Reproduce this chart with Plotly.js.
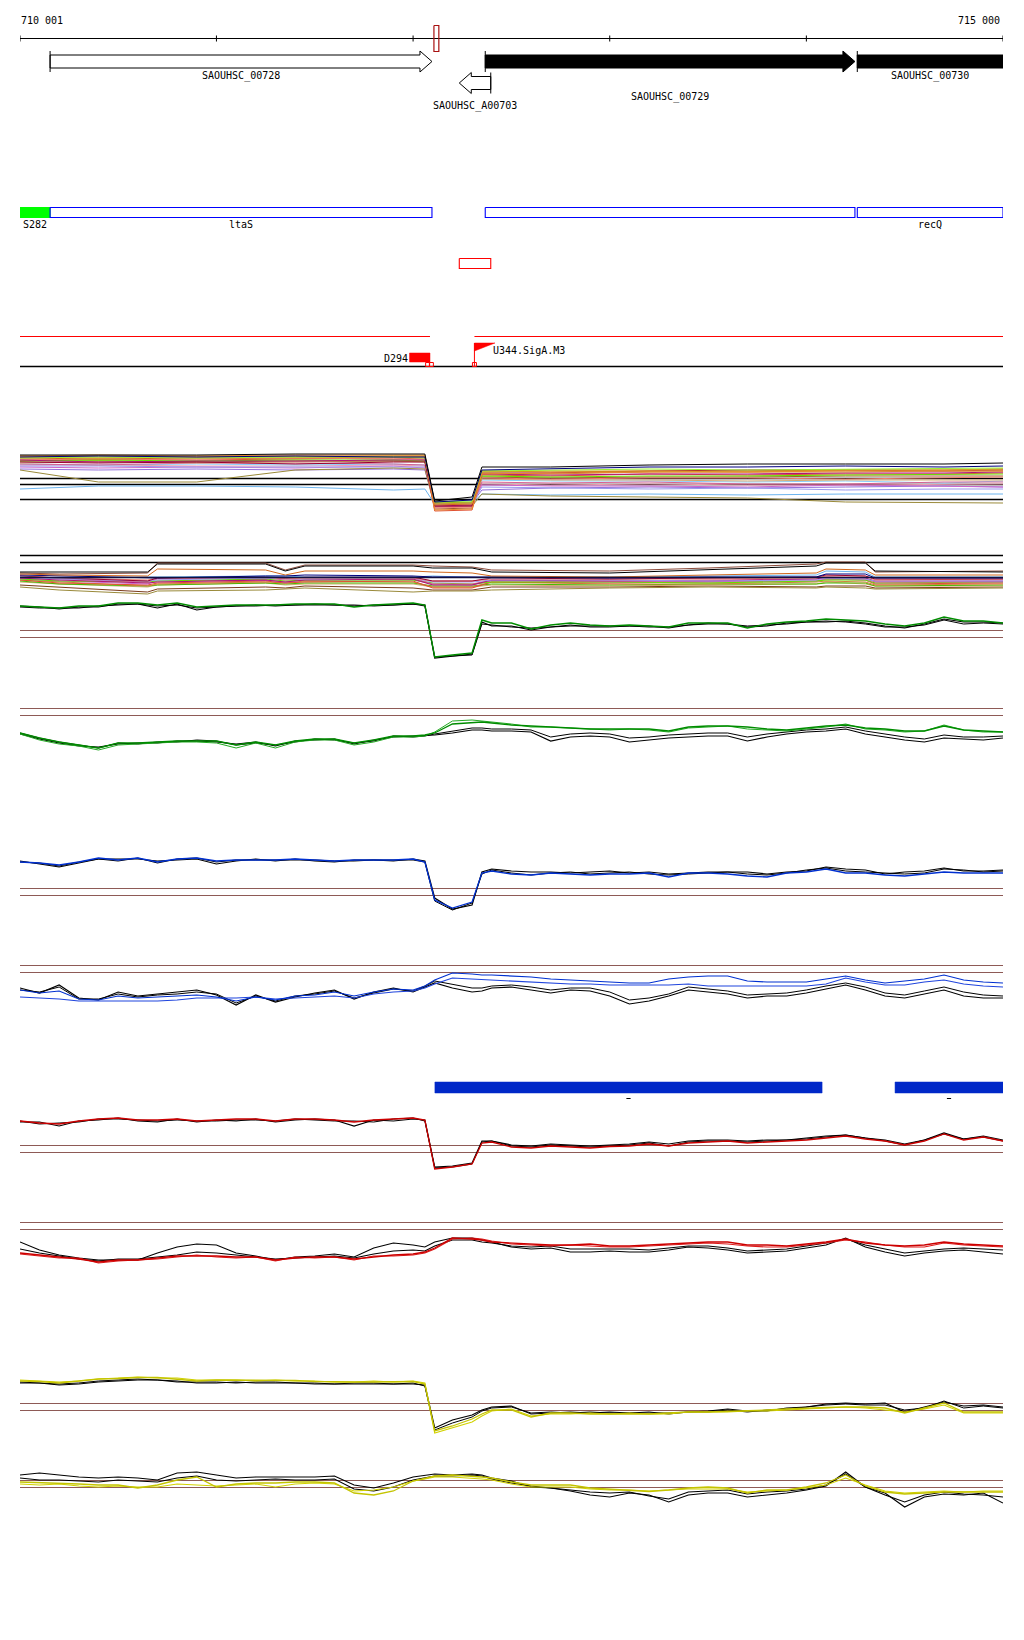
<!DOCTYPE html>
<html><head><meta charset="utf-8">
<script src="https://cdn.plot.ly/plotly-3.0.1.min.js"></script>
<style>html,body{margin:0;padding:0;background:#fff}</style>
</head><body><div id="chart" style="width:1024px;height:1640px"></div>
<script>
// ================= DATA =================
const rulerTicks = [710001, 711000, 712000, 713000, 714000, 715000];
const rulerLabels = ['710 001', '715 000'];
const markerStart = [712106], markerEnd = [712131];

const geneNames = ['SAOUHSC_00728', 'SAOUHSC_A00703', 'SAOUHSC_00729', 'SAOUHSC_00730'];
const geneStart = [710154, 712235, 712367, 714259];
const geneEnd = [712096, 712395, 714247, 715600];
const geneStrand = ['+', '-', '+', '+'];

const boxNames = ['S282', 'ltaS', '', 'recQ'];
const boxStart = [710001, 710154, 712367, 714259];
const boxEnd = [710154, 712096, 714247, 715000];

const ncStart = [712235], ncEnd = [712395];
const tuStart = [710001, 712312], tuEnd = [712086, 715000];
const downName = ['D294'], downStart = [711982], downEnd = [712086];
const upName = ['U344.SigA.M3'], upPos = [712312];
const probePos = [712074, 712093, 712312];
const segStart = [712111, 714451], segEnd = [714080, 715000];

// positions of the expression profiles
const posGrid = [710001,710100,710200,710300,710400,710500,710600,710700,710800,710900,711000,711100,711200,711300,711400,711500,711600,711700,711800,711900,712000,
  712060,712110,712200,712300,712350,712400,
  712500,712600,712700,712800,712900,713000,713100,713200,713300,713400,713500,713600,713700,713800,713900,714000,714100,714200,714300,714400,714500,714600,714700,714800,714900,715000];
const coarseA = [710001,710400,710900,711400,711900,712060,712110,712300,712350,712700,713200,713700,714200,714700,715000];
const coarseB = [710001,710200,710650,710700,711250,711350,711450,712000,712100,712300,712400,713000,713500,714050,714100,714300,714350,715000];

// panel A condition profiles
const ctrlA01 = [12.5,12.5,12.5,12.6,12.6,12.6,7.9,8.3,11.3,11.3,11.5,11.6,11.6,11.6,11.7];
const ctrlA02 = [12.3,12.4,12.3,12.4,12.3,12.3,7.8,8.0,11.0,11.1,11.3,11.3,11.4,11.3,11.4];
const ctrlA03 = [12.2,12.1,12.2,12.2,12.3,12.3,7.5,7.6,10.9,10.8,10.9,10.9,11.0,11.0,11.1];
const ctrlA04 = [12.4,12.3,12.3,12.4,12.4,12.4,7.6,7.7,10.7,10.6,10.8,10.8,10.8,10.9,10.9];
const ctrlA05 = [12.0,11.8,11.9,11.9,12.0,12.0,7.4,7.5,10.6,10.5,10.6,10.6,10.7,10.7,10.8];
const ctrlA06 = [11.9,12.0,11.9,12.0,12.0,11.9,7.7,7.8,10.4,10.3,10.4,10.4,10.5,10.6,10.6];
const ctrlA07 = [11.0,9.8,9.8,11.0,11.2,11.1,7.3,7.4,8.6,8.4,8.3,8.2,7.8,7.7,7.7];
const ctrlA08 = [9.1,9.4,9.4,9.3,9.0,9.1,7.6,7.7,8.6,8.5,8.6,8.5,8.6,8.6,8.6];
const ctrlA09 = [11.6,11.5,11.6,11.5,11.6,11.5,7.6,7.8,10.0,9.9,9.9,9.8,9.9,9.7,9.9];
const ctrlA10 = [11.4,11.4,11.3,11.3,11.3,11.3,7.5,7.6,9.3,9.2,9.1,9.2,9.0,9.1,9.1];
const ctrlA11 = [12.1,12.0,12.1,12.2,12.1,12.1,7.2,7.3,10.2,10.1,10.2,10.2,10.1,10.2,10.3];
const ctrlA12 = [11.6,11.5,11.7,11.7,11.6,11.5,7.3,7.4,9.8,9.7,9.8,9.6,9.6,9.8,9.8];
const ctrlA13 = [11.8,11.7,11.8,11.6,11.8,11.8,7.4,7.4,10.7,10.7,10.9,11.0,11.0,10.9,11.0];
const ctrlA14 = [11.3,11.2,11.3,11.2,11.4,11.2,7.7,7.6,9.5,9.4,9.4,9.3,9.5,9.4,9.3];
const ctrlA15 = [11.7,11.8,11.7,11.8,11.9,11.8,7.5,7.5,10.1,10.0,10.0,9.9,10.0,10.0,10.0];
const ctrlA16 = [12.3,12.2,12.4,12.3,12.4,12.4,7.7,7.7,10.8,10.9,10.9,10.8,11.0,11.0,11.1];
const ctrlA17 = [12.0,12.1,12.0,12.1,12.2,12.1,6.9,7.0,10.5,10.4,10.6,10.5,10.6,10.6,10.7];
const ctrlA18 = [11.9,11.9,11.8,11.9,11.9,11.9,7.1,7.2,10.3,10.2,10.3,10.3,10.4,10.4,10.4];
const ctrlA19 = [12.2,12.3,12.2,12.3,12.3,12.2,7.8,7.9,10.9,11.0,11.1,11.0,11.1,11.2,11.2];
const ctrlA20 = [11.1,11.0,11.1,11.0,11.1,11.0,7.6,7.7,9.0,9.2,9.3,9.2,9.3,9.4,9.3];
const ctrlA21 = [12.4,12.5,12.4,12.5,12.5,12.5,7.0,7.1,10.6,10.7,10.8,10.8,10.9,10.9,10.9];
const ctrlA22 = [11.5,11.5,11.4,11.4,11.5,11.4,7.5,7.5,9.6,9.5,9.6,9.5,9.5,9.6,9.6];
const thrA = [10.15, 9.55, 8.05];

// panel B condition profiles
const ctrlB01 = [10.8,10.8,10.8,11.6,11.6,10.9,11.4,11.4,11.2,11.2,10.8,10.7,11.0,11.4,11.7,11.7,10.9,10.8];
const ctrlB02 = [10.7,10.6,10.7,11.7,11.7,11.0,11.5,11.5,11.4,11.3,11.0,10.9,11.2,11.6,11.8,11.8,10.8,10.9];
const ctrlB03 = [10.6,10.5,10.4,11.1,11.0,10.5,10.9,10.9,10.8,10.7,10.4,10.3,10.5,10.7,11.1,11.0,10.5,10.5];
const ctrlB04 = [10.5,10.4,10.2,10.2,10.4,10.4,10.5,10.4,10.3,10.3,10.3,10.2,10.3,10.3,10.6,10.6,10.2,10.2];
const ctrlB05 = [10.3,10.2,10.3,10.3,10.4,10.4,10.3,10.3,10.4,10.3,10.2,10.3,10.4,10.5,10.9,10.8,10.3,10.3];
const ctrlB06 = [10.2,10.0,9.7,9.8,10.0,9.8,10.0,10.1,9.5,9.5,10.0,9.9,9.9,10.1,10.3,10.2,9.9,9.9];
const ctrlB07 = [10.1,9.9,9.8,9.9,10.1,9.9,10.0,10.0,9.7,9.6,9.8,9.8,9.7,9.9,10.0,10.0,9.7,9.8];
const ctrlB08 = [10.0,9.8,9.4,9.6,9.8,9.7,9.9,9.8,9.3,9.3,9.8,9.6,9.6,9.8,9.9,9.8,9.5,9.6];
const ctrlB09 = [9.3,9.0,8.6,8.9,9.0,9.1,9.2,8.8,8.9,8.9,9.0,9.2,9.3,9.2,9.3,9.2,9.1,9.2];
const ctrlB10 = [10.0,9.7,9.5,9.7,9.9,9.7,9.8,9.9,9.2,9.2,9.8,9.7,9.8,9.9,10.1,10.0,9.6,9.7];
const ctrlB11 = [10.4,10.2,10.0,10.2,10.3,10.1,10.2,10.2,9.9,9.9,10.1,10.1,10.1,10.2,10.4,10.4,10.0,10.1];
const ctrlB12 = [9.9,9.6,9.4,9.5,9.7,9.6,9.7,9.7,9.4,9.4,9.6,9.5,9.6,9.6,9.7,9.7,9.4,9.5];
const ctrlB13 = [10.3,10.1,9.9,10.0,10.2,10.1,10.1,10.2,9.8,9.8,10.0,10.0,9.9,10.0,10.2,10.1,9.9,9.9];
const ctrlB14 = [10.4,10.2,9.9,10.2,10.3,10.2,10.3,10.3,9.9,9.9,10.2,10.1,10.2,10.3,10.5,10.4,10.1,10.1];
const ctrlB15 = [10.2,10.1,9.8,10.1,10.2,10.0,10.1,10.2,9.6,9.6,10.0,9.9,10.0,10.1,10.2,10.1,9.8,9.8];
const ctrlB16 = [9.8,9.6,9.3,9.5,9.7,9.5,9.6,9.6,9.3,9.3,9.5,9.4,9.5,9.6,9.8,9.6,9.4,9.4];
const ctrlB17 = [10.1,9.9,9.6,9.9,10.0,9.8,10.0,10.0,9.6,9.5,9.9,9.8,9.8,9.9,10.1,10.0,9.7,9.8];
const ctrlB18 = [9.5,9.3,8.8,9.1,9.3,9.2,9.4,9.2,9.0,9.0,9.3,9.3,9.4,9.3,9.4,9.4,9.2,9.3];
const thrB = [12.45, 11.75, 10.25];

// panel C (green)
const greenC = [13.4,13.3,13.2,13.4,13.4,13.7,13.7,13.5,13.7,13.3,13.4,13.5,13.5,13.5,13.6,13.6,13.6,13.3,13.5,13.6,13.7,
  13.5,8.3,8.5,8.7,12.0,11.7,
  11.7,11.1,11.5,11.7,11.5,11.4,11.5,11.4,11.3,11.7,11.7,11.7,11.2,11.6,11.8,11.9,12.1,12.0,11.9,11.6,11.4,11.7,12.3,11.9,11.9,11.7];
const blackC1 = [13.4,13.3,13.1,13.3,13.3,13.6,13.6,13.2,13.6,13.0,13.3,13.4,13.5,13.4,13.5,13.6,13.5,13.4,13.5,13.5,13.6,
  13.5,8.2,8.4,8.6,11.8,11.4,
  11.4,11.0,11.3,11.4,11.4,11.4,11.4,11.3,11.3,11.5,11.7,11.6,11.3,11.4,11.7,11.8,11.8,11.9,11.7,11.4,11.2,11.6,12.1,11.8,11.8,11.7];
const blackC2 = [13.3,13.2,13.2,13.2,13.4,13.5,13.6,13.4,13.5,13.2,13.3,13.4,13.4,13.5,13.5,13.5,13.5,13.5,13.4,13.5,13.6,
  13.4,8.3,8.4,8.5,11.6,11.5,
  11.3,11.2,11.3,11.5,11.3,11.3,11.4,11.4,11.2,11.5,11.6,11.6,11.4,11.5,11.6,11.8,11.9,11.8,11.6,11.3,11.3,11.5,12.0,11.6,11.7,11.6];
const thrC = [10.95, 10.25];

// panel D (green, second)
const greenD1 = [10.7,10.2,9.8,9.5,9.2,9.7,9.7,9.8,9.9,9.9,9.9,9.5,9.8,9.5,9.9,10.1,10.1,9.7,10.0,10.4,10.4,
  10.5,10.7,11.6,11.7,11.8,11.7,
  11.5,11.4,11.3,11.2,11.1,11.1,11.1,11.1,10.9,11.3,11.4,11.4,11.3,11.1,11.0,11.2,11.4,11.5,11.2,11.1,10.9,10.9,11.4,11.0,10.9,10.8];
const greenD2 = [10.6,10.0,9.6,9.4,9.0,9.5,9.6,9.7,9.8,9.8,9.7,9.2,9.7,9.2,9.8,10.0,10.0,9.5,9.8,10.3,10.3,
  10.4,10.8,11.9,12.0,11.9,11.8,
  11.6,11.3,11.3,11.2,11.1,11.0,11.1,11.0,10.8,11.2,11.3,11.4,11.1,11.0,10.9,11.1,11.3,11.6,11.1,11.0,10.8,10.9,11.5,11.0,10.8,10.8];
const blackD1 = [10.6,10.1,9.7,9.4,9.3,9.6,9.7,9.7,9.9,9.9,9.8,9.6,9.8,9.4,9.9,10.0,10.1,9.6,10.0,10.3,10.4,
  10.5,10.5,10.7,11.0,11.0,10.9,
  10.9,10.8,9.9,10.3,10.4,10.3,9.8,10.0,10.2,10.3,10.4,10.4,9.9,10.3,10.6,10.8,10.9,11.1,10.6,10.3,10.0,9.8,10.2,10.1,10.0,10.2];
const blackD2 = [10.7,10.2,9.8,9.5,9.2,9.7,9.6,9.8,9.8,10.0,9.9,9.5,9.7,9.5,9.8,10.1,10.0,9.7,9.9,10.4,10.3,
  10.4,10.6,10.9,11.2,11.2,11.1,
  11.1,11.0,10.3,10.6,10.7,10.6,10.2,10.3,10.5,10.6,10.7,10.7,10.3,10.6,10.8,11.0,11.1,11.3,10.9,10.6,10.3,10.1,10.5,10.3,10.3,10.4];
const thrD = [13.15, 12.45];

// panel E (blue)
const blueE = [12.8,12.7,12.5,12.8,13.2,13.0,13.2,12.8,13.1,13.2,12.9,13.0,13.0,13.0,13.1,13.0,12.9,13.0,13.0,13.0,13.1,
  12.8,9.0,8.2,8.8,11.7,11.9,
  11.6,11.5,11.7,11.6,11.5,11.6,11.6,11.7,11.3,11.7,11.7,11.6,11.4,11.3,11.7,11.8,12.1,11.7,11.7,11.5,11.4,11.6,11.8,11.7,11.7,11.7];
const blackE1 = [12.9,12.6,12.3,12.7,13.1,13.1,13.1,12.9,13.0,13.1,12.6,12.9,13.1,12.9,13.1,12.9,12.8,13.0,13.0,12.9,13.1,
  12.9,9.2,8.1,8.5,11.8,12.1,
  11.9,11.8,11.8,11.7,11.8,11.9,11.7,11.8,11.6,11.7,11.8,11.8,11.8,11.6,11.8,11.9,12.3,12.1,12.0,11.6,11.8,11.9,12.2,11.9,11.9,12.0];
const blackE2 = [12.8,12.7,12.4,12.8,13.1,12.9,13.2,12.7,13.1,13.2,12.8,13.0,13.0,13.0,13.0,13.0,12.9,12.9,13.0,13.0,13.0,
  12.8,8.9,8.0,8.7,11.6,12.0,
  11.7,11.5,11.7,11.8,11.6,11.7,11.8,11.6,11.5,11.6,11.7,11.8,11.6,11.5,11.7,12.0,12.2,11.9,11.8,11.7,11.6,11.7,12.1,12.0,11.8,11.9];
const thrE = [10.15, 9.45];

// panel F (blue, second)
const blueF1 = [11.0,10.7,10.9,10.1,10.0,10.4,10.2,10.3,10.4,10.5,10.3,9.9,10.3,10.0,10.4,10.5,10.8,10.4,10.8,11.1,11.0,
  11.4,12.0,12.7,12.6,12.5,12.5,
  12.4,12.3,12.1,12.0,11.9,11.8,11.7,11.7,12.1,12.3,12.4,12.4,11.9,11.8,11.8,11.8,12.1,12.4,12.0,11.7,11.9,12.1,12.5,12.0,11.8,11.7];
const blueF2 = [10.3,10.2,10.1,9.9,9.9,9.9,9.9,9.9,10.0,10.2,10.2,10.2,10.3,10.1,10.2,10.3,10.4,10.2,10.6,10.8,10.9,
  11.2,11.6,12.2,12.1,12.0,12.0,
  11.9,11.8,11.7,11.6,11.6,11.5,11.5,11.5,11.5,11.6,11.4,11.4,11.4,11.4,11.4,11.4,11.6,12.2,11.8,11.5,11.5,11.8,12.0,11.6,11.4,11.3];
const blackF1 = [11.2,10.7,11.5,10.2,10.0,10.8,10.4,10.6,10.8,11.0,10.5,9.5,10.5,9.8,10.3,10.7,11.0,10.1,10.8,11.2,10.8,
  11.3,11.7,11.2,10.8,10.9,11.2,
  11.3,11.0,10.7,11.0,10.9,10.4,9.6,9.9,10.4,11.0,10.8,10.6,10.2,10.4,10.4,10.7,11.1,11.5,11.0,10.4,10.2,10.6,11.0,10.4,10.2,10.2];
const blackF2 = [11.0,10.8,11.3,10.1,10.1,10.6,10.3,10.5,10.6,10.8,10.6,9.7,10.4,9.9,10.4,10.6,10.9,10.2,10.7,11.1,10.9,
  11.4,11.9,11.6,11.2,11.2,11.4,
  11.5,11.3,11.0,11.2,11.2,10.8,10.0,10.2,10.6,11.3,11.1,10.9,10.5,10.6,10.7,11.0,11.4,11.7,11.3,10.7,10.5,10.9,11.3,10.8,10.5,10.4];
const thrF = [13.45, 12.75];

// panel G (red)
const redG = [12.9,12.7,12.6,12.9,13.1,13.2,13.0,13.0,13.1,12.9,13.0,13.1,13.1,12.9,13.1,13.1,13.0,12.8,13.0,13.1,13.2,
  13.0,8.1,8.3,8.6,10.7,10.8,
  10.3,10.2,10.4,10.3,10.2,10.35,10.4,10.6,10.4,10.7,10.8,10.9,10.7,10.8,10.9,11.0,11.2,11.4,11.1,10.9,10.5,10.9,11.6,11.0,11.3,10.9];
const blackG1 = [12.8,12.8,12.4,12.9,13.0,13.2,12.9,12.8,13.1,12.8,13.0,12.9,13.1,12.8,13.0,13.1,13.0,12.4,13.0,12.9,13.1,
  13.0,8.3,8.4,8.7,10.9,10.9,
  10.5,10.4,10.6,10.5,10.4,10.5,10.6,10.8,10.6,10.9,11.0,11.0,10.9,11.0,11.0,11.2,11.4,11.5,11.2,11.0,10.6,11.0,11.7,11.1,11.4,11.0];
const blackG2 = [12.9,12.6,12.7,12.8,13.1,13.1,13.0,12.9,13.0,12.9,12.9,13.0,13.0,12.9,13.1,13.0,12.9,12.9,12.8,13.1,13.2,
  12.9,8.2,8.3,8.6,10.8,10.9,
  10.4,10.3,10.5,10.4,10.3,10.4,10.5,10.7,10.4,10.8,10.9,10.9,10.8,10.9,11.0,11.1,11.3,11.5,11.2,10.9,10.5,11.0,11.6,11.1,11.3,10.9];
const thrG = [10.45, 9.75];

// panel H (red, second)
const redH1 = [10.2,10.0,9.8,9.6,9.3,9.5,9.5,9.7,9.9,9.9,9.9,9.8,9.8,9.5,9.7,9.8,9.8,9.6,9.8,10.0,10.1,
  10.3,10.7,11.7,11.6,11.5,11.3,
  11.2,11.1,11.0,11.0,11.1,10.9,10.9,11.0,11.1,11.2,11.3,11.3,11.0,11.0,10.9,11.1,11.3,11.6,11.2,11.0,10.9,11.0,11.3,11.1,11.0,10.9];
const redH2 = [10.1,9.9,9.7,9.7,9.2,9.4,9.5,9.6,9.8,10.0,9.8,9.7,9.8,9.4,9.8,9.7,9.8,9.5,9.9,9.9,10.0,
  10.2,10.6,11.6,11.7,11.6,11.4,
  11.1,11.0,10.9,11.0,10.9,10.8,10.8,10.9,11.0,11.1,11.2,11.1,10.9,10.8,10.8,11.0,11.2,11.5,11.3,11.0,10.8,10.8,11.2,11.0,10.9,10.8];
const blackH1 = [11.3,10.5,10.0,9.7,9.5,9.5,9.5,10.2,10.8,11.1,11.0,10.2,9.9,9.5,9.8,9.9,10.1,9.8,10.7,11.2,11.0,
  10.8,11.3,11.7,11.7,11.5,11.3,
  10.8,10.6,10.7,10.3,10.3,10.4,10.3,10.3,10.5,10.8,10.7,10.5,10.2,10.3,10.4,10.7,11.0,11.7,10.8,10.3,9.9,10.2,10.4,10.5,10.3,10.1];
const blackH2 = [10.6,10.2,9.9,9.6,9.4,9.6,9.6,9.8,10.0,10.3,10.2,10.0,9.8,9.6,9.7,9.8,9.9,9.7,10.1,10.4,10.5,
  10.4,10.9,11.5,11.5,11.3,11.2,
  10.9,10.8,10.9,10.6,10.6,10.6,10.6,10.5,10.7,10.9,10.9,10.7,10.4,10.5,10.6,10.9,11.2,11.6,11.0,10.6,10.2,10.4,10.6,10.7,10.6,10.5];
const thrH = [13.25, 12.55];

// panel I (yellow)
const yellowI1 = [12.9,12.85,12.7,12.9,13.1,13.15,13.25,13.25,13.1,12.9,13.0,13.0,13.0,13.0,12.95,12.85,12.8,12.8,12.8,12.8,12.85,
  12.6,7.9,8.4,9.1,9.6,10.0,
  10.0,9.3,9.7,9.7,9.6,9.6,9.6,9.6,9.7,9.8,9.8,9.85,9.9,10.0,10.1,10.2,10.25,10.3,10.3,10.2,9.7,10.2,10.7,9.8,9.8,9.8];
const yellowI2 = [13.0,12.9,12.8,12.9,13.1,13.2,13.3,13.2,13.2,13.0,13.0,13.0,12.9,13.0,12.9,12.9,12.8,12.8,12.9,12.8,12.9,
  12.7,7.7,8.2,8.8,9.4,9.9,
  10.1,9.4,9.6,9.6,9.7,9.6,9.7,9.6,9.6,9.8,9.8,9.8,9.9,9.9,10.0,10.1,10.2,10.3,10.2,10.0,9.8,10.1,10.5,9.7,9.7,9.7];
const blackI1 = [12.7,12.7,12.5,12.6,12.8,12.9,13.0,13.0,12.9,12.7,12.7,12.8,12.7,12.7,12.7,12.6,12.6,12.6,12.6,12.6,12.6,
  12.5,8.2,9.0,9.5,10.0,10.3,
  10.4,9.6,9.7,9.8,9.7,9.8,9.7,9.7,9.7,9.8,9.9,10.1,9.9,9.9,10.2,10.3,10.6,10.7,10.6,10.7,9.8,10.3,10.8,10.4,10.5,10.3];
const blackI2 = [12.8,12.7,12.6,12.7,12.9,13.0,13.1,13.0,12.8,12.8,12.8,12.7,12.8,12.8,12.7,12.7,12.6,12.7,12.7,12.6,12.7,
  12.4,8.0,8.7,9.3,9.9,10.2,
  10.3,9.7,9.8,9.7,9.8,9.7,9.7,9.8,9.6,9.8,9.8,10.0,9.8,10.0,10.1,10.3,10.5,10.6,10.5,10.5,10.0,10.2,10.9,10.2,10.4,10.2];
const thrI = [10.65, 9.95];

// panel J (yellow, second)
const yellowJ1 = [12.8,12.75,12.7,12.6,12.5,12.5,12.2,12.5,13.0,13.3,12.3,12.6,12.7,12.7,12.8,12.8,12.7,11.7,11.5,11.9,12.9,
  13.2,13.4,13.5,13.4,13.3,13.2,
  12.8,12.5,12.5,12.5,12.2,12.1,12.0,11.85,12.0,12.2,12.3,12.2,11.7,12.0,12.0,12.3,12.7,13.5,12.4,11.8,11.6,11.7,11.8,11.8,11.8,11.8];
const yellowJ2 = [12.6,12.5,12.6,12.4,12.3,12.4,12.3,12.3,12.6,12.5,12.4,12.5,12.6,12.3,12.6,12.7,12.6,11.9,12.0,12.3,12.9,
  13.1,13.3,13.3,13.2,13.1,13.0,
  12.6,12.3,12.3,12.3,12.1,12.0,12.0,11.9,12.0,12.1,12.1,12.1,11.8,11.9,12.0,12.2,12.5,13.2,12.5,11.9,11.7,11.8,11.9,11.8,11.9,11.9];
const blackJ1 = [13.5,13.7,13.5,13.3,13.2,13.3,13.2,13.0,13.7,13.8,13.5,13.2,13.3,13.3,13.3,13.3,13.4,12.5,12.2,12.7,13.3,
  13.5,13.6,13.5,13.6,13.5,13.2,
  12.9,12.3,12.2,11.9,11.5,11.3,11.7,11.5,10.8,11.5,11.7,11.7,11.3,11.5,11.7,12.0,12.4,13.8,12.3,11.7,10.3,11.3,11.6,11.5,11.7,10.7];
const blackJ2 = [13.2,13.0,13.0,12.9,12.8,13.0,12.9,12.8,13.2,13.4,13.0,12.9,13.0,13.1,13.0,13.0,13.1,12.1,11.9,12.3,13.0,
  13.2,13.4,13.4,13.5,13.4,13.1,
  12.7,12.4,12.2,12.0,11.8,11.7,11.8,11.4,11.1,11.8,11.9,12.0,11.6,11.8,11.9,12.1,12.5,13.6,12.3,11.5,10.8,11.5,11.8,11.6,11.5,11.3];
const thrJ = [12.95, 12.25];

// ================= STYLE / LAYOUT =================
const W = 1024, H = 1640, ML = 20, MR = 21;
const viewStart = rulerTicks[0], viewEnd = rulerTicks[rulerTicks.length - 1];
const bpPerPx = (viewEnd - viewStart) / (W - ML - MR);
const pxBp = n => n * bpPerPx;
const FONT = {family: 'DejaVu Sans Mono, monospace', size: 10, color: '#000'};
const BROWN = '#8e5a56';

const traces = [];
const ann = [];
function addPoly(xs, ys, fill, line, lw, yaxis) {
  traces.push({type: 'scatter', mode: 'lines', x: xs, y: ys, xaxis: 'x', yaxis: yaxis || 'y',
    fill: fill ? 'toself' : 'none', fillcolor: fill || 'rgba(0,0,0,0)',
    line: {color: line, width: lw}, hoverinfo: 'skip'});
}
function addRect(x0, x1, y0, y1, fill, line, lw) { addPoly([x0, x1, x1, x0, x0], [y0, y0, y1, y1, y0], fill, line, lw); }
function addLine(xs, ys, color, lw, yaxis) { addPoly(xs, ys, null, color, lw, yaxis); }
function label(text, x, y, anchor, xshift) {
  ann.push({text: text, x: x, y: y, xref: 'x', yref: 'y', xanchor: anchor || 'center', yanchor: 'middle',
    showarrow: false, xshift: xshift || 0, font: FONT, borderpad: 0});
}

// ruler
addLine([viewStart, viewEnd], [38.5, 38.5], '#000', 1);
const tx = [], ty = [];
rulerTicks.forEach(t => { tx.push(t, t, null); ty.push(35.5, 41.5, null); });
addLine(tx, ty, '#000', 1);
label(rulerLabels[0], viewStart, 20, 'left');
label(rulerLabels[1], viewEnd, 20, 'right', -2);
addRect(markerStart[0], markerEnd[0], 25.5, 51.5, null, '#a81010', 1.2);

// genes
const geneRowY = [61.5, 83, 61.5, 61.5];
const geneLabelY = [76, 106, 97, 76];
const geneFill = ['#ffffff', '#ffffff', '#000000', '#000000'];
geneNames.forEach((name, i) => {
  const s = geneStart[i], e = geneEnd[i], yc = geneRowY[i];
  const body = 6.5, head = 10.5, hl = pxBp(12);
  let xs, ys;
  if (geneStrand[i] === '+') {
    const b = Math.max(s, e - hl);
    xs = [s, b, b, e, b, b, s, s];
  } else {
    const b = Math.min(e, s + hl);
    xs = [e, b, b, s, b, b, e, e];
  }
  ys = [yc - body, yc - body, yc - head, yc, yc + head, yc + body, yc + body, yc - body];
  addPoly(xs, ys, geneFill[i], '#000', 1);
  const bar = geneStrand[i] === '+' ? s : e;
  addLine([bar, bar], [yc - 10.5, yc + 10.5], '#000', 1);
  const c = (Math.max(s, viewStart) + Math.min(e, viewEnd)) / 2;
  label(name, c, geneLabelY[i]);
});

// CDS boxes
boxNames.forEach((name, i) => {
  if (i === 0) addRect(boxStart[i], boxEnd[i], 207.5, 217.5, '#00ff00', '#00ff00', 1);
  else addRect(boxStart[i], boxEnd[i], 207.5, 217.5, null, '#0000ff', 1.1);
  if (name) label(name, (boxStart[i] + boxEnd[i]) / 2, 224);
});

// ncRNA
addRect(ncStart[0], ncEnd[0], 258.5, 268.5, null, '#ff0000', 1.1);
// transcription units
tuStart.forEach((s, i) => addLine([s, tuEnd[i]], [336.5, 336.5], '#ff0000', 1.1));
// promoter / terminator track
addLine([viewStart, viewEnd], [366.5, 366.5], '#000', 1.3);
addRect(downStart[0], downEnd[0], 353, 362, '#ff0000', '#ff0000', 0.5);
label(downName[0], downStart[0], 358, 'right', -1);
probePos.forEach(p => addRect(p - pxBp(2), p + pxBp(2), 362.5, 366.5, null, '#ff0000', 1));
addLine([upPos[0], upPos[0]], [343, 366], '#ff0000', 1);
addPoly([upPos[0], upPos[0] + pxBp(20.5), upPos[0], upPos[0]], [343, 343, 351, 343], '#ff0000', '#ff0000', 0.5);
label(upName[0], upPos[0], 350, 'left', 18);

// segments
segStart.forEach((s, i) => addRect(s, segEnd[i], 1082, 1093, '#0028c8', '#0028c8', 0.5));
traces.push({type: 'scatter', mode: 'markers', xaxis: 'x', yaxis: 'y',
  x: segStart.map((s, i) => (s + segEnd[i]) / 2), y: segStart.map(() => 1098.5),
  marker: {symbol: 'line-ew', size: 3, line: {width: 1, color: '#000'}}, hoverinfo: 'skip'});

// profile panels
function addThr(vals, color, yaxis, lw) { vals.forEach(v => addLine([viewStart, viewEnd], [v, v], color, lw, yaxis)); }
function addSeries(xs, list, yaxis) {
  list.forEach(([vals, color, lw]) => addLine(xs, vals, color, lw, yaxis));
}

// Panel A
addThr(thrA, '#000', 'y2', 1.5);
addSeries(coarseA, [
  [ctrlA22, '#f0a0b0', 1], [ctrlA20, '#9370db', 1], [ctrlA14, '#cc66cc', 1], [ctrlA10, '#9999ee', 1],
  [ctrlA09, '#87cefa', 1], [ctrlA08, '#6cb4ee', 1], [ctrlA07, '#9a8a3a', 1], [ctrlA12, '#d86090', 1],
  [ctrlA15, '#d4a870', 1], [ctrlA18, '#a05a2c', 1], [ctrlA17, '#e05030', 1], [ctrlA11, '#f08070', 1],
  [ctrlA06, '#66dd00', 1.2], [ctrlA05, '#b0157a', 1.2], [ctrlA13, '#990030', 1], [ctrlA03, '#d2691e', 1.2],
  [ctrlA04, '#cd853f', 1.2], [ctrlA16, '#d4a020', 1], [ctrlA19, '#99ee33', 1], [ctrlA21, '#e8882a', 1],
  [ctrlA02, '#000080', 1], [ctrlA01, '#000000', 1]
], 'y2');

// Panel B
addThr(thrB.slice(0, 2), '#000', 'y3', 1.5);
addSeries(coarseB, [
  [ctrlB18, '#7a3a1a', 1], [ctrlB09, '#9a8a3a', 1], [ctrlB16, '#d4a870', 1], [ctrlB12, '#44bb00', 1],
  [ctrlB08, '#cd853f', 1.2], [ctrlB10, '#e05030', 1], [ctrlB17, '#cc66cc', 1], [ctrlB07, '#66dd00', 1.2],
  [ctrlB15, '#d86090', 1], [ctrlB06, '#b0157a', 1.2], [ctrlB13, '#9999ee', 1], [ctrlB11, '#f08070', 1],
  [ctrlB14, '#990030', 1], [ctrlB05, '#6cb4ee', 1], [ctrlB04, '#000080', 1], [ctrlB03, '#d2691e', 1],
  [ctrlB02, '#8b4a3a', 1], [ctrlB01, '#000000', 1]
], 'y3');
addThr(thrB.slice(2), '#101040', 'y3', 1.3);

// Panels C..J
addThr(thrC, BROWN, 'y4', 1);
addSeries(posGrid, [[blackC1, '#000', 1.2], [blackC2, '#000', 1], [greenC, '#008c00', 1.4]], 'y4');
addThr(thrD, BROWN, 'y5', 1);
addSeries(posGrid, [[blackD1, '#000', 1.2], [blackD2, '#000', 1], [greenD2, '#22aa22', 1], [greenD1, '#008c00', 1.3]], 'y5');
addThr(thrE, BROWN, 'y6', 1);
addSeries(posGrid, [[blackE1, '#000', 1.2], [blackE2, '#000', 1], [blueE, '#0030d0', 1.3]], 'y6');
addThr(thrF, BROWN, 'y7', 1);
addSeries(posGrid, [[blackF1, '#000', 1.2], [blackF2, '#000', 1], [blueF2, '#1f44dd', 1.1], [blueF1, '#0030d0', 1.2]], 'y7');
addThr(thrG, BROWN, 'y8', 1);
addSeries(posGrid, [[blackG1, '#000', 1.2], [blackG2, '#000', 1], [redG, '#cc0000', 1.3]], 'y8');
addThr(thrH, BROWN, 'y9', 1);
addSeries(posGrid, [[blackH1, '#000', 1.1], [blackH2, '#000', 1.1], [redH2, '#dd1a1a', 1.1], [redH1, '#cc0000', 1.3]], 'y9');
addThr(thrI, BROWN, 'y10', 1);
addSeries(posGrid, [[blackI1, '#000', 1.2], [blackI2, '#000', 1], [yellowI2, '#d2d200', 1.1], [yellowI1, '#c4c400', 1.3]], 'y10');
addThr(thrJ, BROWN, 'y11', 1);
addSeries(posGrid, [[blackJ1, '#000', 1.1], [blackJ2, '#000', 1.1], [yellowJ2, '#d2d200', 1.1], [yellowJ1, '#c4c400', 1.3]], 'y11');

function yax(T, B, lo, hi) {
  return {domain: [1 - B / H, 1 - T / H], range: [lo, hi], visible: false, fixedrange: true, anchor: 'x',
    showgrid: false, zeroline: false};
}
const layout = {
  width: W, height: H, margin: {l: ML, r: MR, t: 0, b: 0, pad: 0},
  paper_bgcolor: '#fff', plot_bgcolor: 'rgba(0,0,0,0)', showlegend: false, hovermode: false,
  xaxis: {range: [viewStart, viewEnd], visible: false, fixedrange: true, showgrid: false, zeroline: false},
  yaxis: {domain: [0, 1], range: [H, 0], visible: false, fixedrange: true, showgrid: false, zeroline: false},
  yaxis2: yax(440, 520, 6, 14),
  yaxis3: yax(540, 600, 8, 14),
  yaxis4: yax(600, 660, 8, 14),
  yaxis5: yax(700, 760, 8, 14),
  yaxis6: yax(850, 920, 7, 14),
  yaxis7: yax(960, 1020, 8, 14),
  yaxis8: yax(1110, 1180, 7, 14),
  yaxis9: yax(1215, 1275, 8, 14),
  yaxis10: yax(1370, 1440, 7, 14),
  yaxis11: yax(1470, 1520, 9, 14),
  annotations: ann
};
Plotly.newPlot('chart', traces, layout, {staticPlot: true, displayModeBar: false});
</script>
</body></html>
